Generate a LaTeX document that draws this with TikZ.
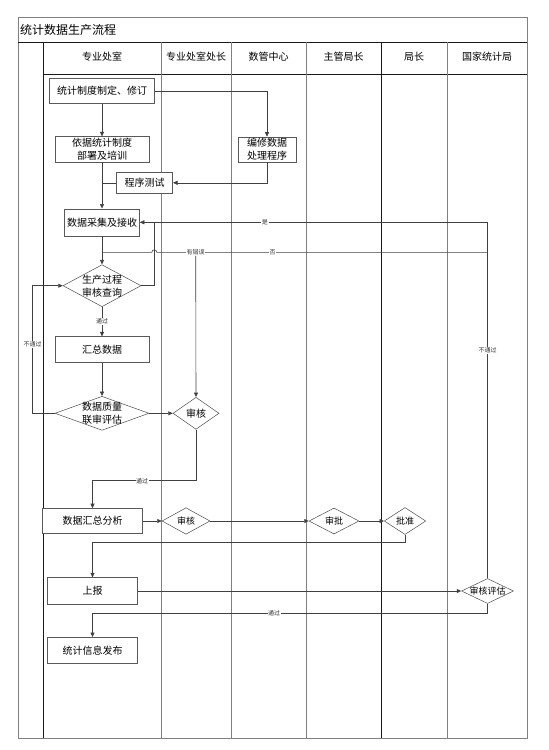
\documentclass[tikz,border=0pt]{standalone}
\usepackage{fontspec}
\setmainfont{Noto Sans CJK SC}
\usetikzlibrary{arrows.meta,shapes.geometric}
\begin{document}
\begin{tikzpicture}[x=1pt,y=-1pt,
  laneg/.style={draw=black!50, line width=0.8pt},
  laneb/.style={draw=black!90, line width=0.8pt},
  box/.style={draw=black!65, line width=0.6pt, fill=white, inner sep=0pt, align=center, font=\fontsize{10}{13}\selectfont},
  dia/.style={diamond, draw=black!70, line width=0.5pt, inner sep=0pt, fill=white},
  dtext/.style={inner sep=0pt, align=center, font=\fontsize{10}{13}\selectfont},
  conn/.style={draw=black!75, line width=0.6pt},
  arr/.style={conn, -{Triangle[length=4.5pt,width=4pt]}},
  lbl/.style={fill=white, inner sep=0.6pt, font=\fontsize{6}{7}\selectfont, text=black!80},
  hdr/.style={inner sep=0pt, font=\fontsize{10}{12}\selectfont}
]
\useasboundingbox (0,0) rectangle (549,750);
% frame and lanes
\draw[laneg] (18,17) rectangle (527,738);
\draw[laneb] (18,42) -- (527,42);
\draw[laneb] (43,74) -- (527,74);
\draw[laneb] (43,42) -- (43,738);
\draw[laneg] (161,42) -- (161,738);
\draw[laneg] (231,42) -- (231,738);
\draw[laneg] (306,42) -- (306,738);
\draw[laneb] (381,42) -- (381,738);
\draw[laneg] (447,42) -- (447,738);
\node[anchor=west, inner sep=0pt, font=\fontsize{12}{14}\selectfont] (title) at (20,30) {统计数据生产流程};
\node[hdr] (h1) at (102,57) {专业处室};
\node[hdr] (h2) at (196,57) {专业处室处长};
\node[hdr] (h3) at (268.5,57) {数管中心};
\node[hdr] (h4) at (343.5,57) {主管局长};
\node[hdr] (h5) at (414,57) {局长};
\node[hdr] (h6) at (487,57) {国家统计局};

% boxes
\node[box, minimum width=105pt, minimum height=25.4pt] (b1) at (102,91) {统计制度制定、修订};
\node[box, minimum width=94pt, minimum height=25.3pt] (b2) at (102,149.3) {依据统计制度\\部署及培训};
\node[box, minimum width=58pt, minimum height=25pt] (b3) at (267,149.5) {编修数据\\处理程序};
\node[box, minimum width=56pt, minimum height=21pt] (b4) at (144.7,182.8) {程序测试};
\node[box, minimum width=75pt, minimum height=27pt] (b5) at (102,222.3) {数据采集及接收};
\node[dia, minimum width=78pt, minimum height=42pt] (d1) at (102,285.7) {};
\node[dtext] (t1) at (d1) {生产过程\\审核查询};
\node[box, minimum width=94pt, minimum height=25.6pt] (b6) at (102,349.5) {汇总数据};
\node[dia, minimum width=94pt, minimum height=34pt] (d2) at (102,413.3) {};
\node[dtext] (t2) at (d2) {数据质量\\联审评估};
\node[dia, minimum width=46pt, minimum height=32pt] (d3) at (196,413.3) {};
\node[dtext] (t3) at (d3) {审核};
\node[box, minimum width=100pt, minimum height=25pt] (b7) at (92.5,521) {数据汇总分析};
\node[dia, minimum width=48pt, minimum height=26.5pt] (d4) at (186,521) {};
\node[dtext, font=\fontsize{9}{11}\selectfont] (t4) at (d4) {审核};
\node[dia, minimum width=50pt, minimum height=26pt] (d5) at (334,521) {};
\node[dtext, font=\fontsize{9}{11}\selectfont] (t5) at (d5) {审批};
\node[dia, minimum width=41.5pt, minimum height=27pt] (d6) at (405,521) {};
\node[dtext, font=\fontsize{9}{11}\selectfont] (t6) at (d6) {批准};
\node[box, minimum width=90pt, minimum height=26.6pt] (b8) at (92.5,591) {上报};
\node[dia, minimum width=52pt, minimum height=25pt] (d7) at (487.5,591) {};
\node[dtext, font=\fontsize{9}{11}\selectfont] (t7) at (d7) {审核评估};
\node[box, minimum width=90pt, minimum height=26pt] (b9) at (92.5,650.3) {统计信息发布};

% helper coordinates
\coordinate (hop) at (154.3,222.3);
\coordinate (nor) at (487.5,252.3);
\coordinate (lpA) at (32.5,413.3);
\coordinate (lpB) at (32.5,285.7);
\coordinate (c2) at (196,480.7);
\coordinate (c3) at (405,542.3);
\coordinate (c4) at (487.5,613.3);

% connectors
\draw[arr] (b1.east) -| (b3.north);
\draw[arr] (b1.south) -- (b2.north);
\draw[arr] (b2.south) -- (b5.north);
\draw[conn] (b4.west) -- (b4.west -| b2.south);
\draw[arr] (b3.south) |- (b4.east);
\draw[arr] (b5.south) -- (d1.north);
\draw[conn] (d1.east) -| (hop);
\draw[conn] (nor) -- node[lbl, pos=0.65]{否} (156.8,252.3) arc[start angle=0, end angle=-180, radius=2.5] -- (102,252.3);
\node[lbl] (err) at (195.7,252.3) {有错误};
\draw[arr] (err.south) -- (d3.north);
\draw[arr] (d7.north) |- node[lbl, pos=0.32]{不通过} node[lbl, pos=0.82]{是} (b5.east);
\draw[arr] (d1.south) -- node[lbl]{通过} (b6.north);
\draw[arr] (d2.west) -- (lpA) -- node[lbl, pos=0.54]{不通过} (lpB) -- (d1.west);
\draw[arr] (b6.south) -- (d2.north);
\draw[arr] (d2.east) -- (d3.west);
\draw[arr] (d3.south) -- (c2) -| node[lbl, pos=0.26]{通过} (b7.north);
\draw[arr] (b7.east) -- (d4.west);
\draw[arr] (d4.east) -- (d5.west);
\draw[arr] (d5.east) -- (d6.west);
\draw[arr] (d6.south) -- (c3) -| (b8.north);
\draw[arr] (b8.east) -- (d7.west);
\draw[arr] (d7.south) -- (c4) -| node[lbl, pos=0.27]{通过} (b9.north);
\end{tikzpicture}
\end{document}
